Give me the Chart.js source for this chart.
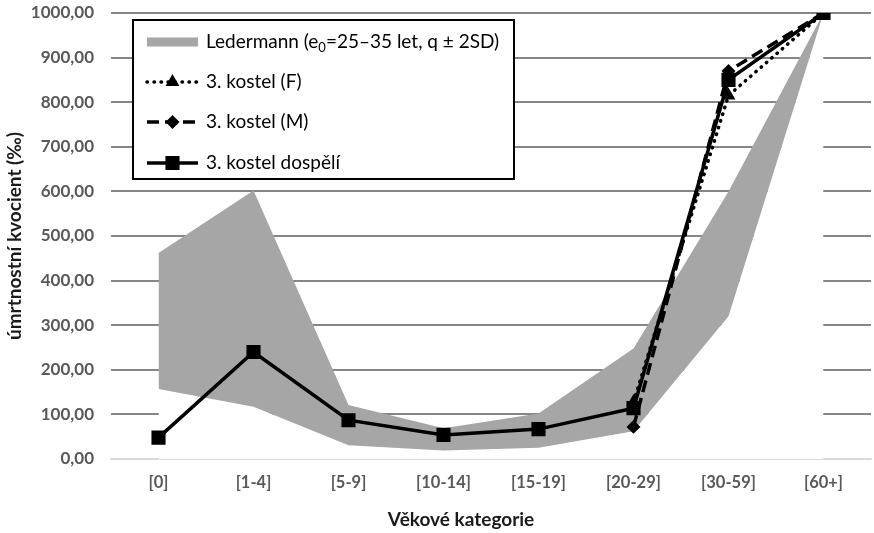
<!DOCTYPE html>
<html>
<head>
<meta charset="utf-8">
<script src="https://cdn.jsdelivr.net/npm/chart.js@4.4.1/dist/chart.umd.min.js"></script>
<style>
  html, body { margin: 0; padding: 0; background: #fff; overflow: hidden; }
  #wrap { position: relative; width: 874px; height: 533px; overflow: hidden; }
  #mortality { display: block; }
</style>
</head>
<body>
<div id="wrap"><canvas id="mortality" width="882" height="533"></canvas></div>
<script>
const categories = ['[0]', '[1-4]', '[5-9]', '[10-14]', '[15-19]', '[20-29]', '[30-59]', '[60+]'];
const ledermannUpper = [462, 602, 121, 69, 102, 248, 600, 1000];
const ledermannLower = [157, 117, 31, 19, 25, 62, 320, 1000];
const kostelF = [null, null, null, null, null, 128, 815, 1000];
const kostelM = [null, null, null, null, null, 72, 870, 1000];
const kostelAdults = [48, 240, 87, 54, 67, 114, 850, 1000];
const yTicks = [0, 100, 200, 300, 400, 500, 600, 700, 800, 900, 1000];

Chart.defaults.font.family = 'Lato';

// legend box drawn inside the plot, like the original
const boxLegend = {
  id: 'boxLegend',
  afterDraw(chart) {
    const ctx = chart.ctx;
    const a = chart.chartArea;
    const x0 = a.left + 22, y0 = 20, w = 381, h = 159;
    ctx.save();
    ctx.fillStyle = '#fff';
    ctx.fillRect(x0, y0, w, h);
    ctx.strokeStyle = '#000';
    ctx.lineWidth = 2;
    ctx.strokeRect(x0, y0, w, h);

    const rows = [3, 2, 1, 0];
    const ys = [42, 82, 122, 163];
    const mx1 = x0 + 14, mx2 = x0 + 65, tx = x0 + 73;
    ctx.font = '19px Lato';
    ctx.textBaseline = 'middle';
    rows.forEach((di, i) => {
      const ds = chart.data.datasets[di];
      const y = ys[i];
      if (di === 3) {
        ctx.fillStyle = ds.backgroundColor;
        ctx.fillRect(mx1, y - 4.5, mx2 - mx1, 9);
      } else {
        ctx.strokeStyle = ds.borderColor;
        ctx.lineWidth = ds.borderWidth;
        ctx.lineCap = ds.borderCapStyle || 'butt';
        ctx.setLineDash(ds.borderDash || []);
        ctx.beginPath();
        ctx.moveTo(mx1, y);
        ctx.lineTo(mx2, y);
        ctx.stroke();
        ctx.setLineDash([]);
        ctx.fillStyle = '#000';
        Chart.helpers.drawPoint(ctx, {
          pointStyle: ds.pointStyle, radius: ds.pointRadius, rotation: 0, borderWidth: 1
        }, (mx1 + mx2) / 2, y);
      }
      ctx.fillStyle = '#000';
      ctx.textAlign = 'left';
      if (di === 3) {
        let x = tx;
        const p1 = 'Ledermann (e';
        ctx.fillText(p1, x, y);
        x += ctx.measureText(p1).width;
        ctx.font = '13px Lato';
        ctx.fillText('0', x, y + 6);
        x += ctx.measureText('0').width;
        ctx.font = '19px Lato';
        ctx.fillText('=25\u201335 let, q \u00b1 2SD)', x, y);
      } else {
        ctx.fillText(ds.label, tx, y);
      }
    });

    // x axis title
    ctx.font = 'bold 19px Lato';
    ctx.fillStyle = '#1a1a1a';
    ctx.textAlign = 'center';
    ctx.fillText('V\u011bkov\u00e9 kategorie', a.left + 350, 520);
    ctx.restore();
  }
};

new Chart(document.getElementById('mortality'), {
  type: 'line',
  data: {
    labels: categories,
    datasets: [
      {
        label: '3. kostel dosp\u011bl\u00ed',
        data: kostelAdults,
        borderColor: '#000',
        backgroundColor: '#000',
        borderWidth: 3.5,
        pointStyle: 'rect',
        pointRadius: 7.5,
        fill: false
      },
      {
        label: '3. kostel (M)',
        data: kostelM,
        borderColor: '#000',
        backgroundColor: '#000',
        borderWidth: 3.5,
        borderDash: [12, 6],
        pointStyle: 'rectRot',
        pointRadius: 4.5,
        fill: false
      },
      {
        label: '3. kostel (F)',
        data: kostelF,
        borderColor: '#000',
        backgroundColor: '#000',
        borderWidth: 3.5,
        borderDash: [0.5, 6.5],
        borderCapStyle: 'round',
        pointStyle: 'triangle',
        pointRadius: 4.5,
        fill: false
      },
      {
        label: 'Ledermann (e0=25\u201335 let, q \u00b1 2SD)',
        data: ledermannUpper,
        borderWidth: 0,
        borderColor: 'rgba(0,0,0,0)',
        backgroundColor: '#a6a6a6',
        pointRadius: 0,
        fill: '+1'
      },
      {
        label: 'lower',
        data: ledermannLower,
        borderWidth: 0,
        borderColor: 'rgba(0,0,0,0)',
        backgroundColor: '#fff',
        pointRadius: 0,
        fill: 'origin'
      }
    ]
  },
  options: {
    responsive: false,
    maintainAspectRatio: false,
    animation: false,
    devicePixelRatio: 1,
    layout: { padding: { top: 13, right: 1, left: 0, bottom: 0 } },
    plugins: {
      legend: { display: false },
      tooltip: { enabled: false }
    },
    elements: { line: { tension: 0 } },
    scales: {
      x: {
        offset: true,
        grid: { display: false, drawTicks: false, offset: true },
        border: { display: true, color: '#d9d9d9', width: 1.5 },
        ticks: {
          color: '#595959',
          font: { size: 16.5, weight: 'bold' },
          padding: 14
        },
        afterFit(scale) { scale.height = 74; }
      },
      y: {
        min: 0,
        max: 1000,
        afterBuildTicks(scale) { scale.ticks = yTicks.map(v => ({ value: v })); },
        grid: {
          color: ctx => ctx.tick && ctx.tick.value === 0 ? '#d9d9d9' : '#868686',
          lineWidth: 2,
          drawTicks: true,
          tickLength: 17,
          tickColor: 'rgba(0,0,0,0)'
        },
        border: { display: false },
        ticks: {
          color: '#595959',
          font: { size: 17, weight: 'bold' },
          padding: 0,
          callback: v => v.toFixed(2).replace('.', ',')
        },
        title: {
          display: true,
          text: '\u00famrtnostn\u00ed kvocient (\u2030)',
          color: '#1a1a1a',
          font: { size: 19, weight: 'bold' },
          padding: { top: 3, bottom: 0 }
        },
        afterFit(scale) { scale.width = 111; }
      }
    }
  },
  plugins: [boxLegend]
});
</script>
</body>
</html>
